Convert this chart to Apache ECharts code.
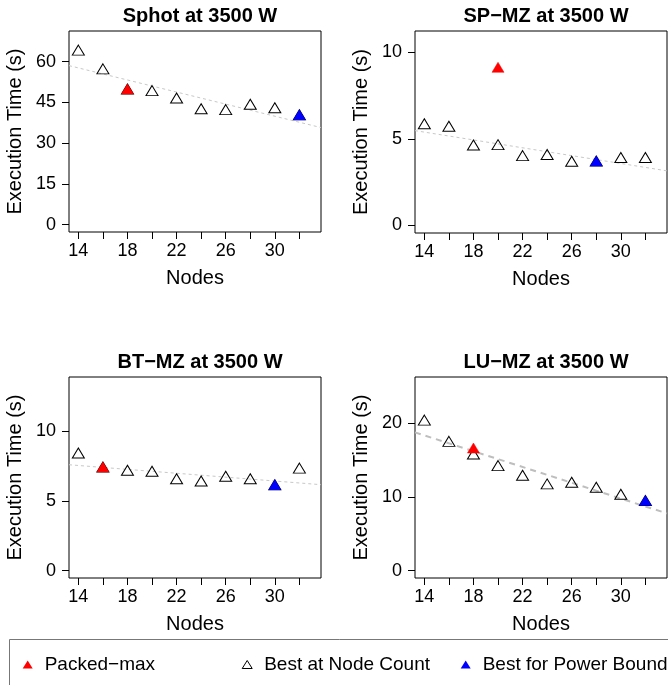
<!DOCTYPE html>
<html>
<head>
<meta charset="utf-8">
<script src="https://cdn.jsdelivr.net/npm/echarts@6/dist/echarts.min.js"></script>
<style>html,body{margin:0;padding:0;background:#fff}#c{width:668px;height:685px}</style>
</head>
<body>
<div id="c"></div>
<script>
// ---- data ----
const nodes = [14, 16, 18, 20, 22, 24, 26, 28, 30, 32];
const xTicks = [14, 16, 18, 20, 22, 24, 26, 28, 30, 32];
const xLabels = [14, 18, 22, 26, 30];
const xLim = [14, 33];

const titles = ['Sphot at 3500 W', 'SP\u2212MZ at 3500 W', 'BT\u2212MZ at 3500 W', 'LU\u2212MZ at 3500 W'];

const sphotBest = [64.2, 57.3, 49.9, 49.3, 46.6, 42.6, 42.3, 44.3, 43.0, 40.4];
const sphotPacked = [[18, 49.9]];
const sphotPower = [[32, 40.4]];
const sphotTrend = [58.5, 35.7];
const sphotYTicks = [0, 15, 30, 45, 60];
const sphotYLim = [0, 68.5];

const spBest = [5.87, 5.72, 4.64, 4.66, 4.03, 4.09, 3.70, 3.72, 3.92, 3.92];
const spPacked = [[20, 9.12]];
const spPower = [[28, 3.72]];
const spTrend = [5.47, 3.15];
const spYTicks = [0, 5, 10];
const spYLim = [0, 10.78];

const btBest = [8.43, 7.43, 7.19, 7.12, 6.59, 6.42, 6.76, 6.59, 6.16, 7.35];
const btPacked = [[16, 7.43]];
const btPower = [[30, 6.16]];
const btTrend = [7.59, 6.16];
const btYTicks = [0, 5, 10];
const btYLim = [0, 13.35];

const luBest = [20.45, 17.56, 15.85, 14.27, 12.96, 11.78, 12.01, 11.33, 10.38, 9.53];
const luPacked = [[18, 16.66]];
const luPower = [[32, 9.53]];
const luTrend = [18.78, 7.77];
const luYTicks = [0, 10, 20];
const luYLim = [0, 25.3];

const legendNames = ['Packed\u2212max', 'Best at Node Count', 'Best for Power Bound'];

// ---- layout ----
const FONT = '"Liberation Sans", Arial, Helvetica, sans-serif';
const panels = [
  { best: sphotBest, packed: sphotPacked, power: sphotPower, trend: sphotTrend, yt: sphotYTicks, yl: sphotYLim, grid: { left: 69, top: 31, width: 252, height: 201 }, thick: false },
  { best: spBest, packed: spPacked, power: spPower, trend: spTrend, yt: spYTicks, yl: spYLim, grid: { left: 415, top: 31, width: 252, height: 202 }, thick: false },
  { best: btBest, packed: btPacked, power: btPower, trend: btTrend, yt: btYTicks, yl: btYLim, grid: { left: 69, top: 377, width: 252, height: 201 }, thick: false },
  { best: luBest, packed: luPacked, power: luPower, trend: luTrend, yt: luYTicks, yl: luYLim, grid: { left: 415, top: 377, width: 252, height: 201 }, thick: true }
];

const xSpan = xLim[1] - xLim[0];
const xMin = xLim[0] - 0.04 * xSpan;
const xMax = xLim[1] + 0.04 * xSpan;

const grids = [], xAxes = [], yAxes = [], series = [], titleOpts = [];
panels.forEach((p, i) => {
  grids.push(Object.assign({ show: true, borderColor: '#000', borderWidth: 1, backgroundColor: 'transparent' }, p.grid));
  titleOpts.push({
    text: titles[i], left: p.grid.left + p.grid.width / 2, top: p.grid.top - 30, textAlign: 'center',
    textStyle: { fontFamily: FONT, fontSize: 20, fontWeight: 'bold', color: '#000' }
  });
  xAxes.push({
    type: 'value', gridIndex: i, min: xMin, max: xMax,
    name: 'Nodes', nameLocation: 'middle', nameGap: 36,
    nameTextStyle: { fontFamily: FONT, fontSize: 20, color: '#000' },
    axisLine: { show: false, onZero: false },
    axisTick: { show: true, inside: false, length: 7, customValues: xTicks, lineStyle: { color: '#000', width: 1 } },
    axisLabel: { customValues: xLabels, fontFamily: FONT, fontSize: 18, color: '#000', margin: 10 },
    splitLine: { show: false }
  });
  const ySpan = p.yl[1] - p.yl[0];
  yAxes.push({
    type: 'value', gridIndex: i, min: p.yl[0] - 0.04 * ySpan, max: p.yl[1] + 0.04 * ySpan,
    name: 'Execution Time (s)', nameLocation: 'middle', nameGap: 44, nameRotate: 90,
    nameTextStyle: { fontFamily: FONT, fontSize: 20, color: '#000' },
    axisLine: { show: false, onZero: false },
    axisTick: { show: true, inside: false, length: 7, customValues: p.yt, lineStyle: { color: '#000', width: 1 } },
    axisLabel: { customValues: p.yt, fontFamily: FONT, fontSize: 18, color: '#000', margin: 13 },
    splitLine: { show: false }
  });
  series.push({
    type: 'line', name: 'trend' + i, xAxisIndex: i, yAxisIndex: i, silent: true,
    data: [[xMin, p.trend[0]], [xMax, p.trend[1]]], symbol: 'none', z: 1,
    lineStyle: p.thick ? { color: '#BEBEBE', width: 2, type: [6, 5] } : { color: '#C8C8C8', width: 1, type: [3, 3] }
  });
  series.push({
    type: 'scatter', name: legendNames[1], xAxisIndex: i, yAxisIndex: i, z: 2,
    data: nodes.map((n, k) => [n, p.best[k]]), symbol: 'triangle', symbolSize: [12, 10],
    itemStyle: { color: 'rgba(255,255,255,0)', borderColor: '#000', borderWidth: 1, opacity: 1 }
  });
  series.push({
    type: 'scatter', name: legendNames[0], xAxisIndex: i, yAxisIndex: i, z: 3,
    data: p.packed, symbol: 'triangle', symbolSize: [12, 10],
    itemStyle: { color: '#FF0000', borderColor: '#FF0000', borderWidth: 0.5, opacity: 1 }
  });
  series.push({
    type: 'scatter', name: legendNames[2], xAxisIndex: i, yAxisIndex: i, z: 3,
    data: p.power, symbol: 'triangle', symbolSize: [12, 10],
    itemStyle: { color: '#0000FF', borderColor: '#0000FF', borderWidth: 0.5, opacity: 1 }
  });
});

const legendBase = {
  orient: 'horizontal', top: 655, itemWidth: 10, itemHeight: 8, selectedMode: false, padding: 0,
  textStyle: { fontFamily: FONT, fontSize: 19, color: '#000', padding: [0, 0, 0, 7] }
};
const legends = [
  Object.assign({}, legendBase, { left: 22.7, data: [{ name: legendNames[0], icon: 'triangle', itemStyle: { color: '#FF0000', borderWidth: 0, opacity: 1 } }] }),
  Object.assign({}, legendBase, { left: 241.7, data: [{ name: legendNames[1], icon: 'triangle', itemStyle: { color: '#fff', borderColor: '#000', borderWidth: 1, opacity: 1 } }] }),
  Object.assign({}, legendBase, { left: 460.7, data: [{ name: legendNames[2], icon: 'triangle', itemStyle: { color: '#0000FF', borderWidth: 0, opacity: 1 } }] })
];

const chart = echarts.init(document.getElementById('c'), null, { renderer: 'canvas' });
chart.setOption({
  animation: false,
  backgroundColor: '#fff',
  title: titleOpts,
  grid: grids,
  xAxis: xAxes,
  yAxis: yAxes,
  legend: legends,
  series: series,
  graphic: [{
    type: 'rect', shape: { x: 9.5, y: 639.5, width: 700, height: 100 },
    style: { fill: 'none', stroke: '#777', lineWidth: 1 }, silent: true, z: -1
  }]
});
</script>
</body>
</html>
